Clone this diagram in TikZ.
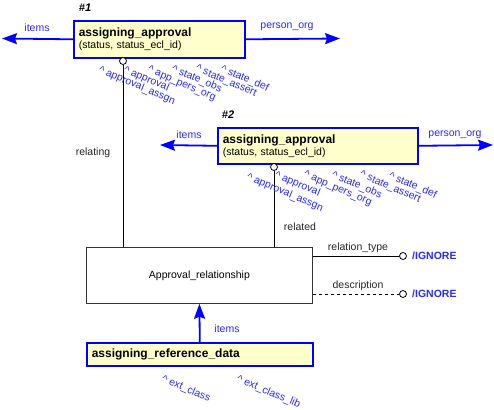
\documentclass[tikz,border=0pt]{standalone}
\usepackage{fontspec}
\setmainfont{Liberation Sans}
\usetikzlibrary{arrows.meta,positioning}
\definecolor{entblue}{RGB}{0,0,255}
\definecolor{lblblue}{RGB}{40,40,255}
\definecolor{entfill}{RGB}{255,255,204}

\tikzset{
  entity/.style={draw=entblue, line width=1.6pt, fill=entfill, anchor=north west,
    inner xsep=5pt, inner ysep=0pt, align=left, font=\fontsize{10.5}{12}\selectfont},
  relbox/.style={draw=black!80, line width=0.8pt, fill=white, anchor=north west,
    inner sep=0pt, font=\fontsize{10.5}{12}\selectfont},
  ring/.style={circle, draw, fill=white, line width=0.8pt, minimum size=7pt, inner sep=0pt},
  blueline/.style={draw=entblue, line width=1.8pt, -{Stealth[length=15pt,width=11pt,inset=2pt]}},
  blacklabel/.style={font=\fontsize{10.5}{12}\selectfont, text=black!85, inner sep=0pt},
  bluelabel/.style={font=\fontsize{10.5}{12}\selectfont, text=lblblue, inner sep=0pt},
  attr/.style={bluelabel, rotate=-23, anchor=north west},
  tag/.style={font=\fontsize{11}{12}\selectfont\bfseries\itshape, inner sep=0pt},
  ignore/.style={font=\fontsize{10.5}{12}\selectfont\bfseries, text=lblblue, inner sep=0pt, anchor=west}
}
\newcommand{\entname}[1]{{\fontsize{12}{12}\selectfont\bfseries #1}}

\begin{document}
\begin{tikzpicture}[x=1pt,y=-1pt]
  \useasboundingbox (0,0) rectangle (494,409);

  % entities
  \node[entity, text width=161pt, minimum height=37pt] (apr1) at (73,20)
    {\entname{assigning\_approval}\\(status, status\_ecl\_id)};
  \node[tag] (tag1) at (85,8) {\#1};
  \node[entity, text width=190pt, minimum height=36pt] (apr2) at (217,127)
    {\entname{assigning\_approval}\\(status, status\_ecl\_id)};
  \node[tag] (tag2) at (228,115) {\#2};
  \node[relbox, minimum width=226pt, minimum height=56pt] (rel) at (86,247) {Approval\_relationship};
  \node[entity, text width=216pt, minimum height=23pt] (refd) at (86,342)
    {\entname{assigning\_reference\_data}};

  % arrow ends
  \coordinate (apr1l) at (2,38.5);
  \coordinate (apr1r) at (340,38.5);
  \coordinate (apr2l) at (160,145);
  \coordinate (apr2r) at (493,145);
  \draw[blueline] (apr1.west) -- (apr1l);
  \draw[blueline] (apr1.east) -- (apr1r);
  \draw[blueline] (apr2.west) -- (apr2l);
  \draw[blueline] (apr2.east) -- (apr2r);
  \draw[blueline] (refd.north) -- (rel.south);
  \node[bluelabel] (it1) at (37,28) {items};
  \node[bluelabel] (po1) at (287,27) {person\_org};
  \node[bluelabel] (it2) at (189,135) {items};
  \node[bluelabel] (po2) at (455,135) {person\_org};
  \node[bluelabel] (it3) at (227,329) {items};

  % relating / related
  \node[ring] (c1) at (123,61) {};
  \node[ring] (c2) at (274,167) {};
  \draw[line width=0.8pt] (c1.south) -- (c1.south |- rel.north);
  \draw[line width=0.8pt] (c2.south) -- (c2.south |- rel.north);
  \node[blacklabel] (lrel1) at (93,153) {relating};
  \node[blacklabel] (lrel2) at (300,227) {related};

  % ignored attributes
  \node[ring] (ig1) at (403,256) {};
  \node[ring] (ig2) at (403,294) {};
  \draw[line width=0.8pt] (ig1.west -| rel.east) -- (ig1.west);
  \draw[line width=0.8pt, dashed] (ig2.west -| rel.east) -- (ig2.west);
  \node[blacklabel] (lrt) at (358,248) {relation\_type};
  \node[blacklabel] (lds) at (358,286) {description};
  \node[ignore] (ign1) at (412,256) {/IGNORE};
  \node[ignore] (ign2) at (412,294) {/IGNORE};

  % attributes of #1
  \node[attr] (a1a) at (101,65) {\textasciicircum\ approval\_assgn};
  \node[attr] (a1b) at (126,65) {\textasciicircum\ approval};
  \node[attr] (a1c) at (150,65) {\textasciicircum\ app\_pers\_org};
  \node[attr] (a1d) at (174,64) {\textasciicircum\ state\_obs};
  \node[attr] (a1e) at (198,64) {\textasciicircum\ state\_assert};
  \node[attr] (a1f) at (223,64) {\textasciicircum\ state\_def};

  % attributes of #2
  \node[attr] (a2a) at (249,172) {\textasciicircum\ approval\_assgn};
  \node[attr] (a2b) at (277,170) {\textasciicircum\ approval};
  \node[attr] (a2c) at (306,170) {\textasciicircum\ app\_pers\_org};
  \node[attr] (a2d) at (334,170) {\textasciicircum\ state\_obs};
  \node[attr] (a2e) at (362,170) {\textasciicircum\ state\_assert};
  \node[attr] (a2f) at (391,171) {\textasciicircum\ state\_def};

  % attributes of reference data
  \node[attr] (a3a) at (164,374) {\textasciicircum\ ext\_class};
  \node[attr] (a3b) at (239,374) {\textasciicircum\ ext\_class\_lib};
\end{tikzpicture}
\end{document}
